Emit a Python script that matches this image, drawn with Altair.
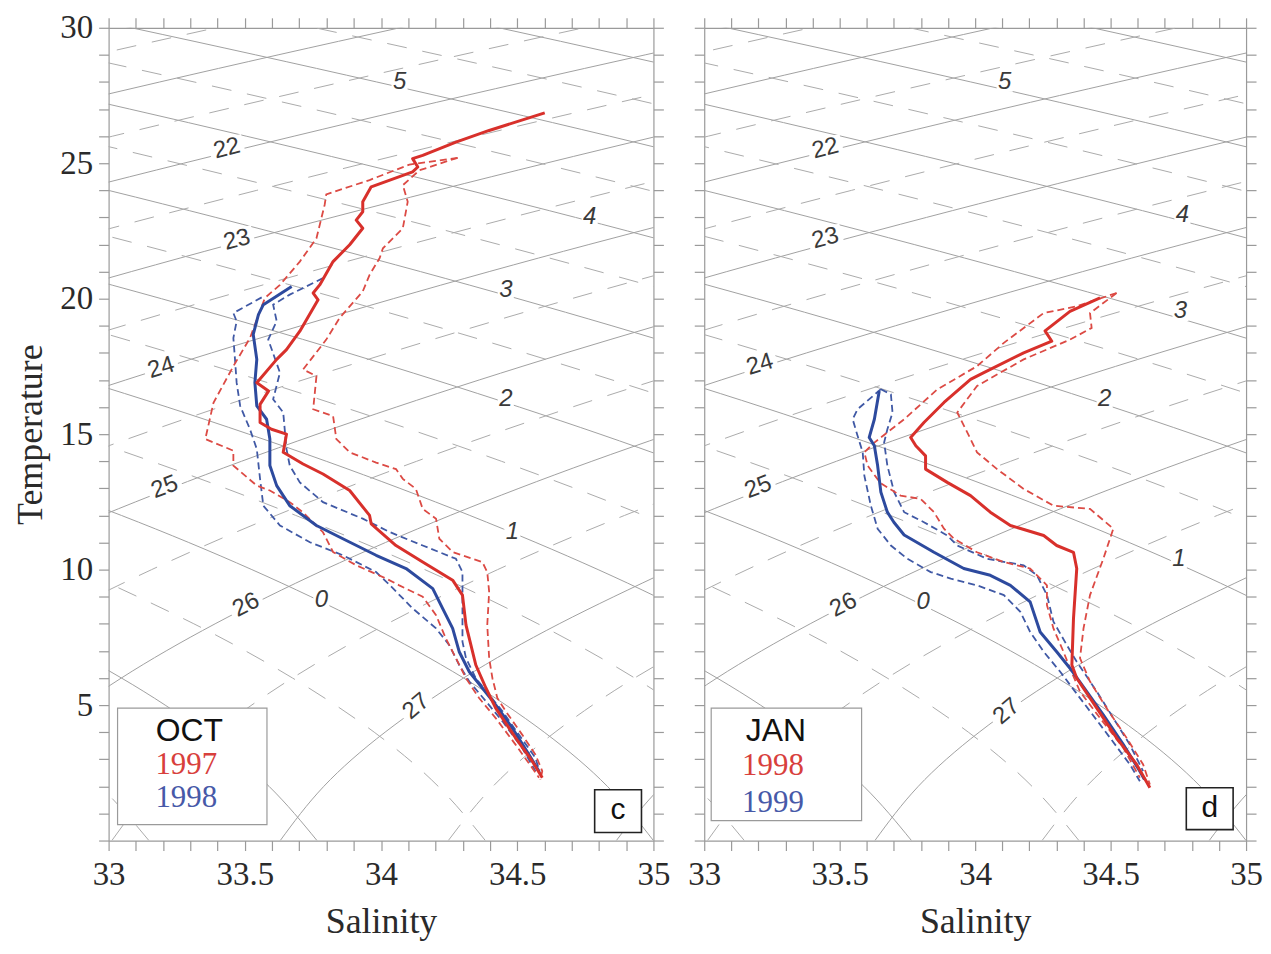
import altair as alt
import pandas as pd

# ---------------- axis ticks ----------------
X_TICKS = [33.0, 33.1, 33.2, 33.3, 33.4, 33.5, 33.6, 33.7, 33.8, 33.9, 34.0,
           34.1, 34.2, 34.3, 34.4, 34.5, 34.6, 34.7, 34.8, 34.9, 35.0]
Y_TICKS = [0, 1, 2, 3, 4, 5, 6, 7, 8, 9, 10, 11, 12, 13, 14, 15, 16, 17, 18, 19,
           20, 21, 22, 23, 24, 25, 26, 27, 28, 29, 30]

# ---------------- background isopycnals (sigma-t) ----------------
SIGMA_LEVELS = [20.5, 21.0, 21.5, 22.0, 22.5, 23.0, 23.5, 24.0, 24.5, 25.0, 25.5,
                26.0, 26.5, 27.0, 27.5, 28.0]
SIGMA_S = [
    [32.517, 33.394, 34.314],
    [32.348, 33.188, 34.069, 34.993],
    [32.22, 33.015, 33.858, 34.744, 35.673],
    [32.128, 32.882, 33.681, 34.528, 35.418],
    [32.081, 32.787, 33.544, 34.348, 35.198],
    [32.078, 32.736, 33.445, 34.207, 35.015, 35.869],
    [32.115, 32.728, 33.390, 34.104, 34.869, 35.681],
    [32.203, 32.762, 33.378, 34.045, 34.763, 35.531],
    [32.336, 32.846, 33.409, 34.029, 34.699, 35.422],
    [32.129, 32.522, 32.976, 33.488, 34.056, 34.679, 35.353],
    [32.418, 32.760, 33.158, 33.615, 34.131, 34.702, 35.329],
    [32.395, 32.548, 32.767, 33.047, 33.391, 33.793, 34.254, 34.774, 35.349],
    [33.012, 33.169, 33.391, 33.675, 34.023, 34.428, 34.894, 35.416],
    [33.630, 33.790, 34.015, 34.303, 34.654, 35.064],
    [34.247, 34.411, 34.639, 34.931, 35.285],
    [34.864, 35.030, 35.260],
]
SIGMA_T = [
    [28, 30, 32],
    [26, 28, 30, 32],
    [24, 26, 28, 30, 32],
    [22, 24, 26, 28, 30],
    [20, 22, 24, 26, 28],
    [18, 20, 22, 24, 26, 28],
    [16, 18, 20, 22, 24, 26],
    [14, 16, 18, 20, 22, 24],
    [12, 14, 16, 18, 20, 22],
    [8, 10, 12, 14, 16, 18, 20],
    [6, 8, 10, 12, 14, 16, 18],
    [0, 2, 4, 6, 8, 10, 12, 14, 16],
    [0, 2, 4, 6, 8, 10, 12, 14],
    [0, 2, 4, 6, 8, 10],
    [0, 2, 4, 6, 8],
    [0, 2, 4],
]

# ---------------- background spiciness lines ----------------
SPICE_LEVELS = [-1.5, -1.0, -0.5, 0.0, 0.5, 1.0, 1.5, 2.0, 2.5, 3.0, 3.5, 4.0,
                4.5, 5.0, 5.5, 6.0]
SPICE_S = [
    [33.148, 32.968, 32.727],
    [33.765, 33.589, 33.351, 33.047, 32.682],
    [34.383, 34.210, 33.975, 33.675, 33.313, 32.891],
    [35.0, 34.831, 34.599, 34.303, 33.944, 33.526, 33.047, 32.514],
    [35.617, 35.452, 35.223, 34.931, 34.576, 34.161, 33.687, 33.157, 32.568],
    [35.559, 35.207, 34.797, 34.326, 33.799, 33.215, 32.577],
    [35.432, 34.965, 34.442, 33.862, 33.228, 32.539],
    [35.605, 35.085, 34.508, 33.878, 33.194, 32.457],
    [35.728, 35.155, 34.528, 33.848, 33.116, 32.336],
    [35.802, 35.178, 34.503, 33.775, 32.999, 32.172],
    [35.828, 35.157, 34.433, 33.661, 32.839],
    [35.812, 35.092, 34.323, 33.505, 32.643],
    [35.751, 34.985, 34.172, 33.314, 32.409],
    [35.648, 34.839, 33.984, 33.084, 32.14],
    [35.505, 34.654, 33.758, 32.819],
    [35.324, 34.433, 33.499],
]
SPICE_T = [
    [0, 2, 4],
    [0, 2, 4, 6, 8],
    [0, 2, 4, 6, 8, 10],
    [0, 2, 4, 6, 8, 10, 12, 14],
    [0, 2, 4, 6, 8, 10, 12, 14, 16],
    [6, 8, 10, 12, 14, 16, 18],
    [10, 12, 14, 16, 18, 20],
    [12, 14, 16, 18, 20, 22],
    [14, 16, 18, 20, 22, 24],
    [16, 18, 20, 22, 24, 26],
    [18, 20, 22, 24, 26],
    [20, 22, 24, 26, 28],
    [22, 24, 26, 28, 30],
    [24, 26, 28, 30, 32],
    [26, 28, 30, 32],
    [28, 30, 32],
]

# ---------------- contour labels ----------------
LAB_TEXT = ["22", "23", "24", "25", "26", "27", "5", "4", "3", "2", "1", "0"]
LAB_ANGLE = [346, 345, 343, 339, 333, 320, 0, 0, 0, 0, 0, 0]
OCT_LAB_S = [33.434, 33.471, 33.193, 33.206, 33.505, 34.129, 34.068, 34.766, 34.458, 34.458, 34.482, 33.781]
OCT_LAB_T = [25.54, 22.17, 17.45, 13.04, 8.69, 4.95, 27.99, 23.03, 20.33, 16.29, 11.39, 8.87]
JAN_LAB_S = [33.447, 33.447, 33.206, 33.199, 33.514, 34.116, 34.109, 34.765, 34.758, 34.478, 34.752, 33.808]
JAN_LAB_T = [25.54, 22.23, 17.57, 13.04, 8.69, 4.77, 27.99, 23.09, 19.53, 16.29, 10.40, 8.81]

# ---------------- OCT profiles ----------------
OCT97_S = [34.601, 34.397, 34.275, 34.153, 34.116, 34.135, 34.116, 33.964, 33.933, 33.933, 33.909,
           33.933, 33.885, 33.824, 33.775, 33.751, 33.769, 33.702, 33.653, 33.617, 33.544, 33.587,
           33.556, 33.556, 33.598, 33.653, 33.641, 33.714, 33.787, 33.885, 33.958, 33.964, 34.055,
           34.153, 34.263, 34.299, 34.312, 34.324, 34.348, 34.385, 34.421, 34.494, 34.555, 34.592]
OCT97_T = [26.86, 26.21, 25.78, 25.29, 25.17, 24.86, 24.68, 24.13, 23.58, 23.21, 22.90,
           22.60, 21.99, 21.37, 20.51, 20.21, 19.96, 18.80, 18.12, 17.76, 16.90, 16.59,
           16.10, 15.43, 15.18, 15.00, 14.33, 13.90, 13.53, 12.92, 12.00, 11.69, 10.89,
           10.28, 9.61, 9.06, 7.95, 7.46, 6.48, 5.63, 4.89, 3.79, 2.93, 2.32]
OCT97_LO_S = [34.281, 34.104, 33.958, 33.799, 33.793, 33.763, 33.702, 33.629, 33.574, 33.519,
              33.458, 33.385, 33.355, 33.458, 33.458, 33.544, 33.592, 33.665, 33.714, 33.787,
              33.824, 33.909, 34.019, 34.067, 34.153, 34.202, 34.238, 34.275, 34.312, 34.360,
              34.421, 34.494, 34.555, 34.580]
OCT97_LO_T = [25.20, 24.95, 24.38, 23.85, 23.46, 22.23, 21.37, 20.51, 20.03, 18.55,
              17.51, 16.16, 14.82, 14.39, 13.84, 13.10, 12.92, 12.49, 12.11, 11.38,
              10.65, 10.16, 9.67, 9.42, 9.00, 8.32, 7.46, 6.73, 5.99, 5.26,
              4.52, 3.54, 2.68, 2.32]
OCT97_HI_S = [34.281, 34.141, 34.080, 34.098, 34.080, 34.007, 33.995, 33.958, 33.933, 33.848,
              33.799, 33.714, 33.763, 33.751, 33.824, 33.836, 33.885, 33.982, 34.055, 34.080,
              34.128, 34.153, 34.202, 34.214, 34.263, 34.372, 34.390, 34.397, 34.390, 34.397,
              34.409, 34.427, 34.458, 34.518, 34.567, 34.592, 34.585]
OCT97_HI_T = [25.20, 24.74, 24.19, 23.58, 22.60, 21.86, 21.50, 20.88, 20.27, 19.29,
              18.49, 17.39, 17.14, 15.92, 15.67, 14.82, 14.33, 13.95, 13.71, 13.35,
              12.98, 12.24, 11.88, 11.14, 10.65, 10.28, 9.91, 9.18, 7.95, 6.73,
              5.99, 5.26, 4.77, 3.91, 3.17, 2.56, 2.25]
OCT98_S = [33.672, 33.568, 33.550, 33.531, 33.544, 33.537, 33.544, 33.580, 33.592, 33.592,
           33.617, 33.665, 33.763, 33.860, 33.982, 34.092, 34.190, 34.226, 34.263, 34.287,
           34.324, 34.372, 34.421, 34.482, 34.543, 34.580]
OCT98_T = [20.45, 19.78, 19.41, 18.68, 17.76, 16.90, 16.04, 15.55, 14.82, 13.84,
           13.10, 12.36, 11.63, 11.14, 10.53, 10.04, 9.30, 8.57, 7.83, 6.97,
           6.23, 5.63, 5.01, 4.15, 3.17, 2.56]
OCT98_LO_S = [33.562, 33.458, 33.470, 33.458, 33.464, 33.470, 33.483, 33.519, 33.544, 33.556,
              33.568, 33.629, 33.739, 33.860, 33.982, 34.030, 34.116, 34.202, 34.250, 34.287,
              34.324, 34.385, 34.446, 34.518, 34.567]
OCT98_LO_T = [20.05, 19.47, 19.17, 18.55, 17.76, 16.90, 16.04, 15.18, 14.45, 13.35,
              12.36, 11.63, 11.01, 10.53, 9.91, 9.45, 8.57, 7.83, 7.22, 6.48,
              5.87, 5.14, 4.40, 3.42, 2.56]
OCT98_HI_S = [33.787, 33.665, 33.604, 33.617, 33.586, 33.629, 33.604, 33.641, 33.653, 33.665,
              33.702, 33.787, 33.933, 34.031, 34.153, 34.275, 34.299, 34.299, 34.299, 34.312,
              34.348, 34.397, 34.446, 34.506, 34.567, 34.585]
OCT98_HI_T = [20.76, 20.15, 19.78, 19.17, 18.49, 17.27, 16.29, 15.80, 14.45, 13.84,
              13.22, 12.49, 11.88, 11.39, 10.89, 10.40, 9.91, 8.57, 7.34, 6.73,
              5.99, 5.38, 4.77, 3.91, 3.05, 2.44]

# ---------------- JAN profiles ----------------
JAN98_S = [34.461, 34.350, 34.258, 34.283, 34.179, 34.032, 33.983, 33.885, 33.811, 33.762,
           33.781, 33.817, 33.817, 33.897, 33.983, 34.056, 34.130, 34.253, 34.301, 34.363,
           34.375, 34.363, 34.357, 34.375, 34.449, 34.522, 34.596, 34.645]
JAN98_T = [20.03, 19.53, 18.81, 18.43, 18.00, 17.27, 17.02, 16.17, 15.43, 14.88,
           14.57, 14.20, 13.71, 13.22, 12.73, 12.12, 11.63, 11.26, 10.89, 10.64,
           10.04, 8.20, 6.48, 5.99, 4.89, 3.79, 2.81, 1.95]
JAN98_LO_S = [34.522, 34.375, 34.253, 34.106, 34.007, 33.860, 33.738, 33.628, 33.591, 33.603,
              33.650, 33.725, 33.799, 33.848, 33.885, 33.922, 34.007, 34.106, 34.203, 34.265,
              34.265, 34.289, 34.326, 34.350, 34.387, 34.461, 34.547, 34.608]
JAN98_LO_T = [20.21, 19.72, 19.47, 18.37, 17.51, 16.65, 15.55, 14.69, 14.33, 13.84,
              13.20, 12.73, 12.61, 12.12, 11.51, 11.14, 10.64, 10.28, 10.04, 9.42,
              8.69, 7.83, 6.97, 6.36, 5.50, 4.52, 3.42, 2.32]
JAN98_HI_S = [34.522, 34.424, 34.430, 34.350, 34.179, 34.007, 33.934, 33.983, 34.007, 34.081,
              34.179, 34.289, 34.424, 34.510, 34.473, 34.424, 34.400, 34.387, 34.424, 34.485,
              34.559, 34.620, 34.645]
JAN98_HI_T = [20.21, 19.47, 18.92, 18.49, 17.76, 16.78, 15.80, 14.82, 14.33, 13.71,
              12.98, 12.36, 12.24, 11.51, 10.40, 9.06, 7.83, 6.73, 5.87, 4.89,
              3.79, 2.81, 2.07]
JAN99_S = [33.646, 33.628, 33.609, 33.628, 33.640, 33.652, 33.676, 33.700, 33.738, 33.848,
           33.958, 34.056, 34.130, 34.203, 34.240, 34.301, 34.350, 34.412, 34.473, 34.547,
           34.608, 34.625]
JAN99_T = [16.59, 15.55, 14.88, 14.57, 13.84, 12.86, 12.12, 11.75, 11.28, 10.64,
           10.04, 9.79, 9.42, 8.81, 7.70, 6.97, 6.36, 5.50, 4.64, 3.54,
           2.56, 2.25]
JAN99_LO_S = [33.652, 33.566, 33.548, 33.566, 33.585, 33.591, 33.615, 33.640, 33.689, 33.750,
              33.836, 33.910, 34.007, 34.106, 34.167, 34.203, 34.253, 34.314, 34.350, 34.424,
              34.498, 34.571, 34.608]
JAN99_LO_T = [16.66, 15.92, 15.55, 14.94, 14.33, 13.47, 12.36, 11.51, 10.89, 10.40,
              9.91, 9.67, 9.42, 9.06, 8.44, 7.70, 6.97, 6.23, 5.75, 4.77,
              3.79, 2.81, 2.19]
JAN99_HI_S = [33.652, 33.689, 33.695, 33.676, 33.664, 33.676, 33.701, 33.738, 33.811, 33.897,
              33.934, 34.044, 34.179, 34.228, 34.265, 34.289, 34.338, 34.375, 34.449, 34.510,
              34.571, 34.620]
JAN99_HI_T = [16.66, 16.47, 15.80, 15.18, 14.69, 13.84, 12.86, 12.12, 11.75, 11.26,
              10.89, 10.40, 10.16, 9.79, 9.06, 8.08, 7.22, 6.60, 5.50, 4.52,
              3.54, 2.56]

# ---------------- styling ----------------
RED = "#d8302b"
RED_D = "#dc4a44"
BLUE = "#2d4a9e"
BLUE_D = "#4059a5"
RED_TXT = "#d8403c"
BLUE_TXT = "#4759a8"
GRID = "#a0a0a0"
GRID_D = "#aaaaaa"
SERIF = "Liberation Serif"
SANS = "Liberation Sans"

XS = alt.Scale(domain=[33, 35], nice=False, zero=False)
YS = alt.Scale(domain=[0, 30], nice=False, zero=False)
XLAB = "abs(datum.value*2 - round(datum.value*2)) < 0.001 ? datum.label : ''"
YLAB = "(datum.value % 5 == 0 && datum.value > 0) ? datum.label : ''"
ONE = pd.DataFrame({"k": [0]})


def grid_frame():
    rows = []
    for kind, levels, SS, TT in (("sig", SIGMA_LEVELS, SIGMA_S, SIGMA_T),
                                 ("pi", SPICE_LEVELS, SPICE_S, SPICE_T)):
        for lev, ss, ts in zip(levels, SS, TT):
            dashed = abs(lev - round(lev)) > 0.01
            for i, (s, t) in enumerate(zip(ss, ts)):
                rows.append({"S": s, "T": t, "i": i, "line": f"{kind}{lev}", "dashed": dashed})
    return pd.DataFrame(rows)


def prof(S, T):
    return pd.DataFrame({"S": S, "T": T, "i": list(range(len(S)))})


def xy(axx=None, axy=None):
    return dict(x=alt.X("S:Q", scale=XS, axis=axx), y=alt.Y("T:Q", scale=YS, axis=axy))


def txt(x, y, s, font, size, color):
    return alt.Chart(ONE).mark_text(text=s, font=font, fontSize=size, color=color,
                                    align="center", baseline="middle").encode(
        x=alt.value(x), y=alt.value(y))


def box(x1, x2, y1, y2, stroke, sw):
    return alt.Chart(ONE).mark_rect(fill="white", stroke=stroke, strokeWidth=sw).encode(
        x=alt.value(x1), x2=alt.value(x2), y=alt.value(y1), y2=alt.value(y2))


def panel(width, first, lab_s, lab_t, mean_a, lo_a, hi_a, mean_b, lo_b, hi_b,
          month, year_a, year_b, letter, leg, let_box):
    G = grid_frame()
    ax_b = alt.Axis(orient="bottom", values=X_TICKS, format="~g", labelExpr=XLAB,
                    title="Salinity", labelFlush=False, labelOverlap=False,
                    labelPadding=8, titlePadding=13, tickSize=10)
    if first:
        ax_l = alt.Axis(orient="left", values=Y_TICKS, labelExpr=YLAB, title="Temperature",
                        labelFlush=False, labelOverlap=False, labelPadding=6,
                        titlePadding=10, tickSize=10)
    else:
        ax_l = alt.Axis(orient="left", values=Y_TICKS, labels=False, title=None, tickSize=10)
    ax_t = alt.Axis(orient="top", values=X_TICKS, labels=False, title=None, tickSize=10)
    ax_r = alt.Axis(orient="right", values=Y_TICKS, labels=False, title=None, tickSize=10)

    solid = alt.Chart(G[~G["dashed"]]).mark_line(
        color=GRID, strokeWidth=1, clip=True, interpolate="natural").encode(
        **xy(ax_b, ax_l), detail="line:N", order="i:Q")
    dashed = alt.Chart(G[G["dashed"]]).mark_line(
        color=GRID_D, strokeWidth=1, strokeDash=[20, 16], clip=True,
        interpolate="natural").encode(**xy(ax_t, ax_r), detail="line:N", order="i:Q")

    L = pd.DataFrame({"S": lab_s, "T": lab_t, "lab": LAB_TEXT, "ang": LAB_ANGLE})
    L["sig"] = [len(t) == 2 for t in LAB_TEXT]
    L["shp"] = ["M-1,-0.62L1,-0.62L1,0.62L-1,0.62Z" if s else "M-1,-1.2L1,-1.2L1,1.2L-1,1.2Z"
                for s in L["sig"]]
    L["sz"] = [1200 if s else 260 for s in L["sig"]]
    bg = alt.Chart(L).mark_point(filled=True, color="white", opacity=1, strokeWidth=0).encode(
        **xy(), shape=alt.Shape("shp:N", scale=None), size=alt.Size("sz:Q", scale=None),
        angle=alt.Angle("ang:Q", scale=None))
    lab_sig = alt.Chart(L[L["sig"]]).mark_text(
        font=SANS, fontSize=24, color="#3a3a3a", align="center", baseline="middle").encode(
        **xy(), text="lab:N", angle=alt.Angle("ang:Q", scale=None))
    lab_pi = alt.Chart(L[~L["sig"]]).mark_text(
        font=SANS, fontSize=24, fontStyle="italic", color="#3a3a3a", align="center",
        baseline="middle").encode(**xy(), text="lab:N")

    def dline(df, col):
        return alt.Chart(df).mark_line(color=col, strokeWidth=1.8, strokeDash=[7, 4]).encode(
            **xy(), order="i:Q")

    def sline(df, col):
        return alt.Chart(df).mark_line(color=col, strokeWidth=3, strokeJoin="round").encode(
            **xy(), order="i:Q")

    layers = [solid, dashed, bg, lab_sig, lab_pi,
              dline(lo_b, BLUE_D), dline(hi_b, BLUE_D),
              dline(lo_a, RED_D), dline(hi_a, RED_D),
              sline(mean_b, BLUE), sline(mean_a, RED)]
    lx1, lx2, ly1, ly2, tx, ty1, ty2, ty3 = leg
    layers += [box(lx1, lx2, ly1, ly2, "#9a9a9a", 1.2),
               txt(tx, ty1, month, SANS, 32, "#111111"),
               txt(tx - 3, ty2, year_a, SERIF, 31, RED_TXT),
               txt(tx - 3, ty3, year_b, SERIF, 31, BLUE_TXT)]
    bx1, bx2, by1, by2 = let_box
    layers += [box(bx1, bx2, by1, by2, "#222222", 1.6),
               txt((bx1 + bx2) / 2, (by1 + by2) / 2 - 1, letter, SANS, 30, "#111111")]
    return alt.layer(*layers).resolve_axis(x="independent", y="independent").properties(
        width=width, height=816)


left = panel(547, True, OCT_LAB_S, OCT_LAB_T,
             prof(OCT97_S, OCT97_T), prof(OCT97_LO_S, OCT97_LO_T), prof(OCT97_HI_S, OCT97_HI_T),
             prof(OCT98_S, OCT98_T), prof(OCT98_LO_S, OCT98_LO_T), prof(OCT98_HI_S, OCT98_HI_T),
             "OCT", "1997", "1998", "c",
             (9, 159, 683, 800, 81, 706, 740, 773), (488, 535, 765, 808))
right = panel(544, False, JAN_LAB_S, JAN_LAB_T,
              prof(JAN98_S, JAN98_T), prof(JAN98_LO_S, JAN98_LO_T), prof(JAN98_HI_S, JAN98_HI_T),
              prof(JAN99_S, JAN99_T), prof(JAN99_LO_S, JAN99_LO_T), prof(JAN99_HI_S, JAN99_HI_T),
              "JAN", "1998", "1999", "d",
              (7, 158, 683, 796, 72, 706, 741, 778), (484, 531, 763, 805))

chart = alt.hconcat(left, right, spacing=51, bounds="flush").properties(
    padding={"left": 5, "top": 2, "right": 0, "bottom": 0}
).configure_axis(
    domainColor="#9a9a9a", domainWidth=1.2, tickColor="#9a9a9a", tickWidth=1.2,
    labelFont=SERIF, labelFontSize=33, labelColor="#2a2a2a",
    titleFont=SERIF, titleFontSize=36, titleFontWeight="normal", titleColor="#2a2a2a",
    grid=False
).configure_view(stroke=None)

chart.save("out.html", embed_options={"renderer": "svg", "actions": False})
